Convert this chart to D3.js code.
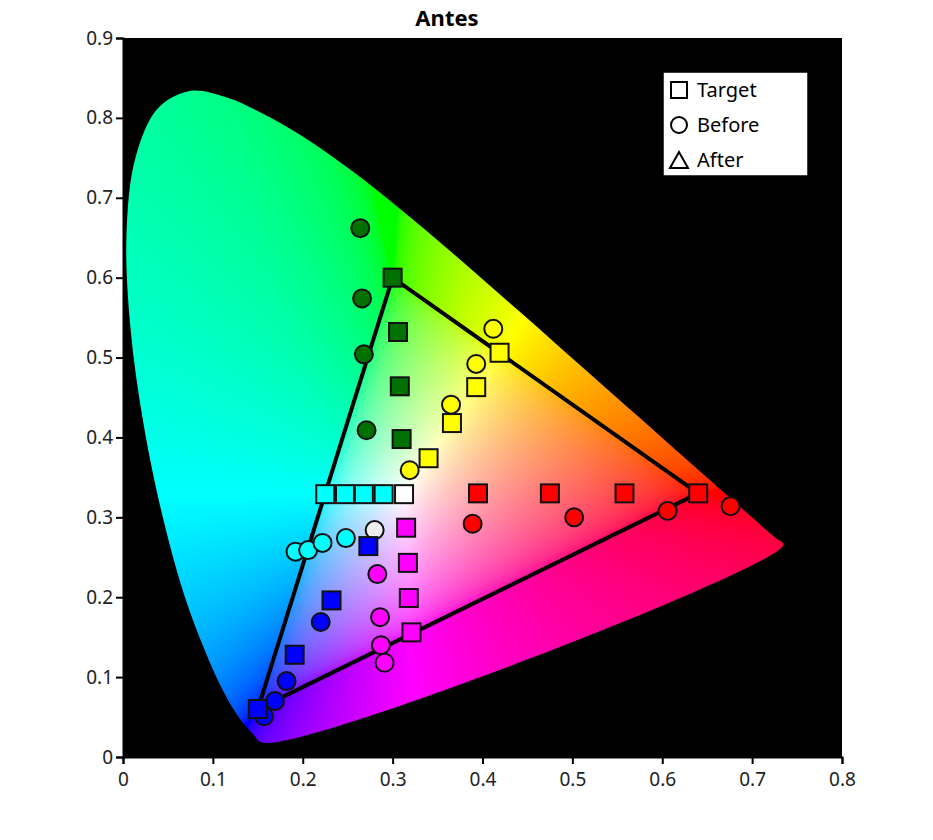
<!DOCTYPE html>
<html>
<head>
<meta charset="utf-8">
<script src="https://cdn.jsdelivr.net/npm/d3@7"></script>
<style>
  body { margin: 0; background: #fff; }
  text { font-family: "Noto Sans", sans-serif; }
</style>
</head>
<body>
<div id="chart"></div>
<script>
// CIE 1931 spectral locus (x, y)
const locus = [
  [0.1741,0.0050],[0.1733,0.0048],[0.1726,0.0048],[0.1714,0.0051],[0.1689,0.0069],
  [0.1644,0.0109],[0.1566,0.0177],[0.1440,0.0297],[0.1355,0.0399],[0.1241,0.0578],
  [0.1096,0.0868],[0.0913,0.1327],[0.0687,0.2007],[0.0454,0.2950],[0.0235,0.4127],
  [0.0082,0.5384],[0.0039,0.6548],[0.0139,0.7502],[0.0389,0.8120],[0.0743,0.8338],
  [0.1142,0.8262],[0.1547,0.8059],[0.1929,0.7816],[0.2296,0.7543],[0.2658,0.7243],
  [0.3016,0.6923],[0.3373,0.6589],[0.3731,0.6245],[0.4087,0.5896],[0.4441,0.5547],
  [0.4788,0.5202],[0.5125,0.4866],[0.5448,0.4544],[0.5752,0.4242],[0.6029,0.3965],
  [0.6270,0.3725],[0.6658,0.3340],[0.6915,0.3083],[0.7079,0.2920],[0.7190,0.2809],
  [0.7260,0.2740],[0.7347,0.2653]
];

// gamut triangle (R, G, B)
const gamut = [[0.64,0.33],[0.30,0.60],[0.15,0.06]];

// target squares
const targetX = [0.64,0.558,0.475,0.395, 0.30,0.306,0.308,0.310, 0.419,0.393,0.366,0.340,
  0.225,0.247,0.268,0.290, 0.315,0.317,0.318,0.321, 0.273,0.232,0.191,0.15, 0.3127];
const targetY = [0.33,0.33,0.33,0.33, 0.60,0.532,0.464,0.398, 0.506,0.463,0.418,0.374,
  0.329,0.329,0.329,0.329, 0.287,0.243,0.199,0.156, 0.264,0.196,0.128,0.06, 0.329];
const targetC = ['r','r','r','r','g','g','g','g','y','y','y','y','c','c','c','c','m','m','m','m','b','b','b','b','w'];

// measured circles (before)
const beforeX = [0.676,0.606,0.502,0.389, 0.264,0.266,0.268,0.271, 0.412,0.393,0.365,0.319,
  0.192,0.206,0.222,0.248, 0.283,0.286,0.287,0.291, 0.220,0.182,0.169,0.157, 0.280];
const beforeY = [0.314,0.308,0.300,0.292, 0.662,0.574,0.504,0.409, 0.536,0.492,0.441,0.359,
  0.257,0.259,0.268,0.274, 0.229,0.175,0.140,0.118, 0.169,0.095,0.070,0.051, 0.284];
const beforeC = targetC;

const legendLabels = ['Target','Before','After'];
const palette = { r:'#ff0000', g:'#007000', y:'#ffff00', c:'#00ffff', m:'#ff00ff', b:'#0000ff', w:'#ffffff' };

const width = 933, height = 840;
const margin = { top: 38, right: 91, bottom: 83, left: 123 };
const iw = width - margin.left - margin.right, ih = height - margin.top - margin.bottom;

const x = d3.scaleLinear().domain([0, 0.8]).range([0, iw]);
const y = d3.scaleLinear().domain([0, 0.9]).range([ih, 0]);

const svg = d3.select('#chart').append('svg').attr('width', width).attr('height', height);
svg.append('text').attr('x', 447).attr('y', 26).attr('text-anchor', 'middle')
  .attr('font-size', 22).attr('font-weight', 'bold').text('Antes');

const g = svg.append('g').attr('transform', `translate(${margin.left},${margin.top})`);
g.append('rect').attr('width', iw).attr('height', ih).attr('fill', '#000');

// colour fill of the locus, drawn on a canvas
const canvas = document.createElement('canvas');
canvas.width = iw; canvas.height = ih;
const ctx = canvas.getContext('2d');
const img = ctx.createImageData(iw, ih);
const gam = v => v <= 0.0031308 ? 12.92 * v : 1.055 * Math.pow(v, 1 / 2.4) - 0.055;
for (let py = 0; py < ih; py++) {
  for (let px = 0; px < iw; px++) {
    const cx = x.invert(px + 0.5), cy = Math.max(y.invert(py + 0.5), 0.002);
    const X = cx / cy, Y = 1, Z = Math.max(1 - cx - cy, 0) / cy;
    let r = 3.2406 * X - 1.5372 * Y - 0.4986 * Z;
    let gg = -0.9689 * X + 1.8758 * Y + 0.0415 * Z;
    let b = 0.0557 * X - 0.2040 * Y + 1.0570 * Z;
    const mn = Math.min(r, gg, b);
    if (mn < 0) { r -= mn * 0.6; gg -= mn * 0.6; b -= mn * 0.6; }
    r = Math.max(r, 0); gg = Math.max(gg, 0); b = Math.max(b, 0);
    const m = Math.max(r, gg, b) || 1;
    const i = (py * iw + px) * 4;
    img.data[i] = 255 * gam(r / m);
    img.data[i + 1] = 255 * gam(gg / m);
    img.data[i + 2] = 255 * gam(b / m);
    img.data[i + 3] = 255;
  }
}
ctx.putImageData(img, 0, 0);
// keep only the (smoothed) locus area
ctx.globalCompositeOperation = 'destination-in';
ctx.beginPath();
d3.line().x(d => x(d[0])).y(d => y(d[1])).curve(d3.curveCatmullRomClosed).context(ctx)(locus.filter((d, i) => i >= 6));
ctx.fill();
g.append('image').attr('width', iw).attr('height', ih).attr('href', canvas.toDataURL());

// gamut triangle
g.append('path')
  .attr('d', d3.line().x(d => x(d[0])).y(d => y(d[1]))(gamut) + 'Z')
  .attr('fill', 'none').attr('stroke', '#000').attr('stroke-width', 4);

// before circles
g.selectAll('.before').data(beforeX.map((v, i) => ({ x: v, y: beforeY[i], c: beforeC[i] })))
  .enter().append('circle').attr('class', 'before')
  .attr('cx', d => x(d.x)).attr('cy', d => y(d.y)).attr('r', 9)
  .attr('fill', d => d.c === 'w' ? '#eeeeee' : palette[d.c])
  .attr('stroke', '#111').attr('stroke-width', 2);

// target squares
g.selectAll('.target').data(targetX.map((v, i) => ({ x: v, y: targetY[i], c: targetC[i] })))
  .enter().append('rect').attr('class', 'target')
  .attr('x', d => x(d.x) - 9).attr('y', d => y(d.y) - 9).attr('width', 18).attr('height', 18)
  .attr('fill', d => palette[d.c]).attr('stroke', '#111').attr('stroke-width', 2);

// axes
const xa = g.append('g').attr('transform', `translate(0,${ih})`)
  .call(d3.axisBottom(x).tickValues(d3.range(0, 0.81, 0.1)).tickFormat(d => +d.toFixed(1)).tickSize(7));
const ya = g.append('g')
  .call(d3.axisLeft(y).tickValues(d3.range(0, 0.91, 0.1)).tickFormat(d => +d.toFixed(1)).tickSize(7));
[xa, ya].forEach(a => {
  a.selectAll('path, line').attr('stroke', '#000').attr('stroke-width', 2);
  a.selectAll('text').attr('font-size', 19).attr('fill', '#222').style('font-family', '"Noto Sans", sans-serif');
});
xa.selectAll('text').attr('dy', '1.0em');

// legend
const lg = svg.append('g').attr('transform', 'translate(663,72)');
lg.append('rect').attr('width', 145).attr('height', 104).attr('fill', '#fff').attr('stroke', '#000').attr('stroke-width', 1.5);
legendLabels.forEach((t, i) => {
  const cy = 18 + i * 35;
  if (i === 0) lg.append('rect').attr('x', 8).attr('y', cy - 8).attr('width', 16).attr('height', 16)
    .attr('fill', 'none').attr('stroke', '#000').attr('stroke-width', 2);
  if (i === 1) lg.append('circle').attr('cx', 16).attr('cy', cy).attr('r', 8)
    .attr('fill', 'none').attr('stroke', '#000').attr('stroke-width', 2);
  if (i === 2) lg.append('path').attr('d', `M7,${cy + 8}L16,${cy - 8}L25,${cy + 8}Z`)
    .attr('fill', 'none').attr('stroke', '#000').attr('stroke-width', 2);
  lg.append('text').attr('x', 34).attr('y', cy).attr('dy', '0.35em').attr('font-size', 20).text(t);
});
</script>
</body>
</html>
